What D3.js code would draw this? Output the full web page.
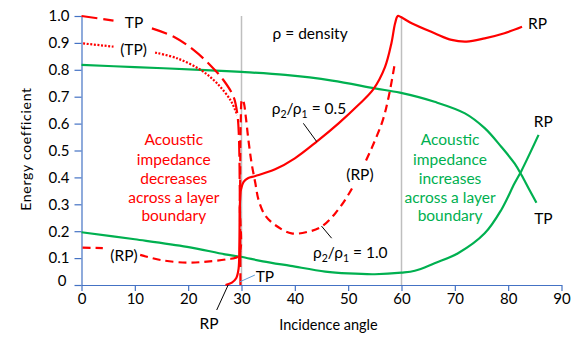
<!DOCTYPE html>
<html><head><meta charset="utf-8">
<script src="https://cdn.jsdelivr.net/npm/d3@7"></script>
<style>
html,body{margin:0;padding:0;background:#fff;}
svg{display:block;font-family:Lato,"Open Sans",sans-serif;}
</style></head>
<body>
<svg id="c" width="575" height="341"></svg>
<script>
// ---- data ----
const xTicks = [0,10,20,30,40,50,60,70,80,90];
const yTicks = [0,0.1,0.2,0.3,0.4,0.5,0.6,0.7,0.8,0.9,1.0];
const yTickLabels = ["0","0.1","0.2","0.3","0.4","0.5","0.6","0.7","0.8","0.9","1.0"];
const xTitle = "Incidence angle";
const yTitle = "Energy coefficient";
const criticalAngles = [30, 60];

// red, rho2/rho1 = 0.5, RP (solid)
const rpHalf = [[27.0,0.0],[28.2,0.009],[29.0,0.025],[29.45,0.06],[29.6,0.15],[29.7,0.3],[29.9,0.355],[30.4,0.383],[31.2,0.397],[32.6,0.405],[36.3,0.43],[40.0,0.471],[44.1,0.533],[48.2,0.601],[51.9,0.669],[54.7,0.727],[56.9,0.81],[58.1,0.898],[58.8,0.973],[59.3,1.0],[59.8,0.997],[61.9,0.973],[66.2,0.936],[69.4,0.911],[72.2,0.905],[75.6,0.917],[79.3,0.936],[82.6,0.96]];
// red, rho2/rho1 = 0.5, TP (long dash)
const tpHalf = [[0,1.0],[6.0,0.983],null,[13.2,0.954],[17.3,0.923],[21.0,0.874],[24.1,0.818],[26.6,0.762],[28.5,0.70],[29.2,0.638],[29.5,0.56],[29.7,0.3],[29.8,0.0]];
// red, rho2/rho1 = 1.0, RP (dashed)
const rpOne = [[0.2,0.139],[4.0,0.137],null,[11.0,0.112],[14.8,0.093],[19.8,0.083],[23.5,0.087],[27.3,0.096],[29.4,0.108],[29.7,0.3],[29.85,0.6],[30.1,0.69],[30.4,0.68],[30.8,0.626],[31.3,0.539],[31.9,0.452],[32.6,0.378],[33.2,0.316],[34.4,0.26],[36.3,0.223],[39.4,0.192],[42.5,0.198],[45.0,0.217],[47.6,0.267],[50.2,0.341],[52.8,0.44],[54.8,0.527],[56.5,0.613],[57.6,0.70],[58.8,0.83]];
// red, rho2/rho1 = 1.0, TP (dotted)
const tpOne = [[0.3,0.898],[6.0,0.886],null,[13.8,0.864],[17.9,0.843],[22.3,0.80],[25.4,0.75],[27.9,0.688],[28.8,0.651],[29.2,0.632]];
// green, impedance increases, TP
const tpInc = [[0,0.818],[10,0.81],[22.2,0.80],[30,0.792],[38.2,0.781],[47,0.76],[55.0,0.731],[59.7,0.715],[66.2,0.681],[71.9,0.638],[75.6,0.583],[78.7,0.514],[81.2,0.452],[82.5,0.409],[84.0,0.353],[85.3,0.306]];
// green, impedance increases, RP
const rpInc = [[0,0.196],[10,0.17],[19.8,0.142],[26.9,0.114],[29.8,0.105],[34,0.088],[39.2,0.071],[45.7,0.05],[50.0,0.043],[55.0,0.040],[60.0,0.046],[62.5,0.053],[66.2,0.081],[70.6,0.118],[75.6,0.192],[78.7,0.279],[81.2,0.378],[82.5,0.425],[85.7,0.558]];

// annotations (data coordinates)
const labels = [
  {t:"TP", x:9.85, y:0.974},
  {t:"(TP)", x:9.75, y:0.874},
  {t:"ρ = density", x:42.86, y:0.936},
  {t:"(RP)", x:52.2, y:0.41, bg:true},
  {t:"(RP)", x:7.97, y:0.108},
  {t:"TP", x:34.4, y:0.033},
  {t:"RP", x:23.9, y:-0.145},
  {t:"RP", x:85.5, y:0.973},
  {t:"RP", x:86.6, y:0.607},
  {t:"TP", x:86.6, y:0.248}
];
const ratioLabels = [
  {a:"2", b:"1", v:"0.5", x:42.66, y:0.654},
  {a:"2", b:"1", v:"1.0", x:50.4, y:0.119}
];
const leaders = [
  {p:[[41.6,0.601],[44.1,0.533]], c:"#000"},
  {p:[[46.9,0.174],[45.0,0.219]], c:"#000"},
  {p:[[29.7,0.012],[32.5,0.037]], c:"#5b9bd5"},
  {p:[[25.35,-0.093],[27.5,0.0]], c:"#000"}
];
const redBlock = ["Acoustic","impedance","decreases","across a layer","boundary"];
const greenBlock = ["Acoustic","impedance","increases","across a layer","boundary"];
const blockLineY = [0.539,0.467,0.397,0.326,0.257];
const redBlockX = 17.3, greenBlockX = 69.1;

// ---- chart ----
const svg = d3.select("#c");
const x = d3.scaleLinear().domain([0,90]).range([81.5,561.5]);
const y = d3.scaleLinear().domain([0,1]).range([285,16]);
const RED = "#ff0000", GREEN = "#00b050", AXIS = "#4472c4";

// critical angle lines
svg.selectAll("line.crit").data(criticalAngles).enter().append("line")
  .attr("x1",d=>x(d)).attr("x2",d=>x(d)).attr("y1",y(1)).attr("y2",y(0))
  .attr("stroke","#bfbfbf").attr("stroke-width",1.5);

// axes
const xAxis = svg.append("g").attr("transform",`translate(0,${y(0)})`)
  .call(d3.axisBottom(x).tickValues(xTicks).tickSize(6).tickSizeOuter(0).tickFormat(d3.format("d")));
const yAxis = svg.append("g").attr("transform",`translate(${x(0)},0)`)
  .call(d3.axisLeft(y).tickValues(yTicks).tickSize(7).tickSizeOuter(0).tickFormat((d,i)=>yTickLabels[i]));
[xAxis,yAxis].forEach(g=>{
  g.select(".domain").attr("stroke",AXIS).attr("stroke-width",1.2);
  g.selectAll(".tick line").attr("stroke",AXIS).attr("stroke-width",1.2);
  g.selectAll(".tick text").attr("fill","#000").attr("font-size",15).attr("font-family","Lato,sans-serif");
});
xAxis.selectAll(".tick text").attr("y",8);
yAxis.selectAll(".tick text").attr("x",-12);
yAxis.selectAll(".tick text").filter(d=>d===0).attr("dy","0.0em").attr("x",-15);

svg.append("text").attr("x",(x(0)+x(90))/2+7).attr("y",330).attr("text-anchor","middle")
  .attr("font-size",14.5).attr("fill","#000").text(xTitle);
svg.append("text").attr("transform",`translate(31,149) rotate(-90)`).attr("text-anchor","middle")
  .attr("font-size",14).attr("letter-spacing",0.7).attr("fill","#000").text(yTitle);

// curves
const line = d3.line().defined(d=>d!==null).x(d=>x(d[0])).y(d=>y(d[1])).curve(d3.curveCatmullRom.alpha(0.5));
function draw(data,color,dash,w){
  svg.append("path").datum(data).attr("d",line).attr("fill","none")
    .attr("stroke",color).attr("stroke-width",w||2.2).attr("stroke-dasharray",dash||null);
}
draw(tpInc,GREEN);
draw(rpInc,GREEN);
draw(tpOne,RED,"2,1.6",2.2);
draw(rpOne,RED,"8,5");
draw(tpHalf,RED,"16,6");
draw(rpHalf,RED);

// leaders
leaders.forEach(l=>{
  svg.append("line").attr("x1",x(l.p[0][0])).attr("y1",y(l.p[0][1]))
    .attr("x2",x(l.p[1][0])).attr("y2",y(l.p[1][1])).attr("stroke",l.c).attr("stroke-width",1);
});

// labels
labels.forEach(l=>{
  const g = svg.append("g");
  const t = g.append("text").attr("x",x(l.x)).attr("y",y(l.y)).attr("dy","0.35em").attr("text-anchor","middle")
    .attr("font-size",15.5).attr("fill","#000").text(l.t);
  if(l.bg){
    const b = t.node().getBBox();
    g.insert("rect","text").attr("x",b.x-2).attr("y",b.y-3).attr("width",b.width+4).attr("height",b.height+6).attr("fill","#fff");
  }
});
ratioLabels.forEach(l=>{
  const t = svg.append("text").attr("x",x(l.x)).attr("y",y(l.y)).attr("dy","0.35em")
    .attr("text-anchor","middle").attr("font-size",15.5).attr("fill","#000");
  t.append("tspan").text("ρ");
  t.append("tspan").attr("font-size",10.5).attr("dy",4).text(l.a);
  t.append("tspan").attr("dy",-4).text("/ρ");
  t.append("tspan").attr("font-size",10.5).attr("dy",4).text(l.b);
  t.append("tspan").attr("dy",-4).text(" = " + l.v);
});
function block(lines,cx,color){
  lines.forEach((s,i)=>{
    svg.append("text").attr("x",x(cx)).attr("y",y(blockLineY[i])).attr("dy","0.35em")
      .attr("text-anchor","middle").attr("font-size",15.5).attr("fill",color).text(s);
  });
}
block(redBlock,redBlockX,RED);
block(greenBlock,greenBlockX,GREEN);
</script>
</body></html>
